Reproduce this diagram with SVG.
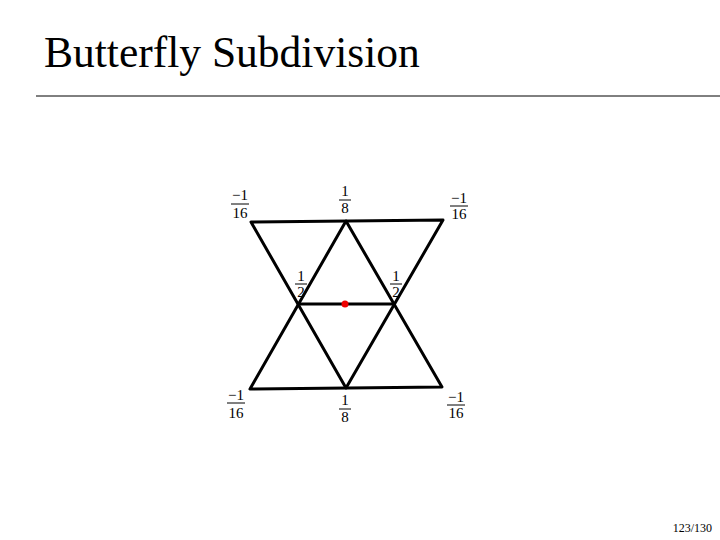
<svg xmlns="http://www.w3.org/2000/svg" width="720" height="540" viewBox="0 0 720 540">
<style>
.t{font-family:"Liberation Serif",serif;fill:#000}
.f{font-family:"Liberation Serif",serif;font-size:15px;text-anchor:middle;fill:#000}
.e{stroke:#000;stroke-width:3;fill:none;stroke-linejoin:round}
.b{stroke:#000;stroke-width:1}
</style>
<rect width="720" height="540" fill="#fff"/>
<text class="t" x="44" y="67" font-size="43.5">Butterfly Subdivision</text>
<line x1="36" y1="96" x2="720" y2="96" stroke="#000" stroke-width="1"/>
<g id="connectors">
<path class="e" d="M251,222 L443,220 L346,388 Z"/>
<path class="e" d="M250,389 L442,387 L346,221 Z"/>
<line class="e" x1="298" y1="304" x2="395" y2="304"/>
</g>
<g id="center"><circle cx="345" cy="304" r="3.5" fill="#e00"/></g>
<g id="n-tl"><text class="f" x="240" y="200">−1</text><line class="b" x1="231" y1="204" x2="249" y2="204"/><text class="f" x="240" y="218">16</text></g>
<g id="n-tm"><text class="f" x="345" y="196">1</text><line class="b" x1="339" y1="200" x2="351" y2="200"/><text class="f" x="345" y="213">8</text></g>
<g id="n-tr"><text class="f" x="459" y="203">−1</text><line class="b" x1="450" y1="206" x2="468" y2="206"/><text class="f" x="459" y="219">16</text></g>
<g id="n-ml"><text class="f" x="301" y="281">1</text><line class="b" x1="295" y1="284" x2="307" y2="284"/><text class="f" x="301" y="297">2</text></g>
<g id="n-mr"><text class="f" x="396" y="281">1</text><line class="b" x1="390" y1="284" x2="402" y2="284"/><text class="f" x="396" y="297">2</text></g>
<g id="n-bl"><text class="f" x="236" y="400">−1</text><line class="b" x1="227" y1="403" x2="245" y2="403"/><text class="f" x="236" y="418">16</text></g>
<g id="n-bm"><text class="f" x="345" y="405">1</text><line class="b" x1="339" y1="409" x2="351" y2="409"/><text class="f" x="345" y="422">8</text></g>
<g id="n-br"><text class="f" x="456" y="402">−1</text><line class="b" x1="447" y1="405" x2="465" y2="405"/><text class="f" x="456" y="418">16</text></g>
<text class="t" x="712" y="532" font-size="12" text-anchor="end" fill="#333">123/130</text>
</svg>
